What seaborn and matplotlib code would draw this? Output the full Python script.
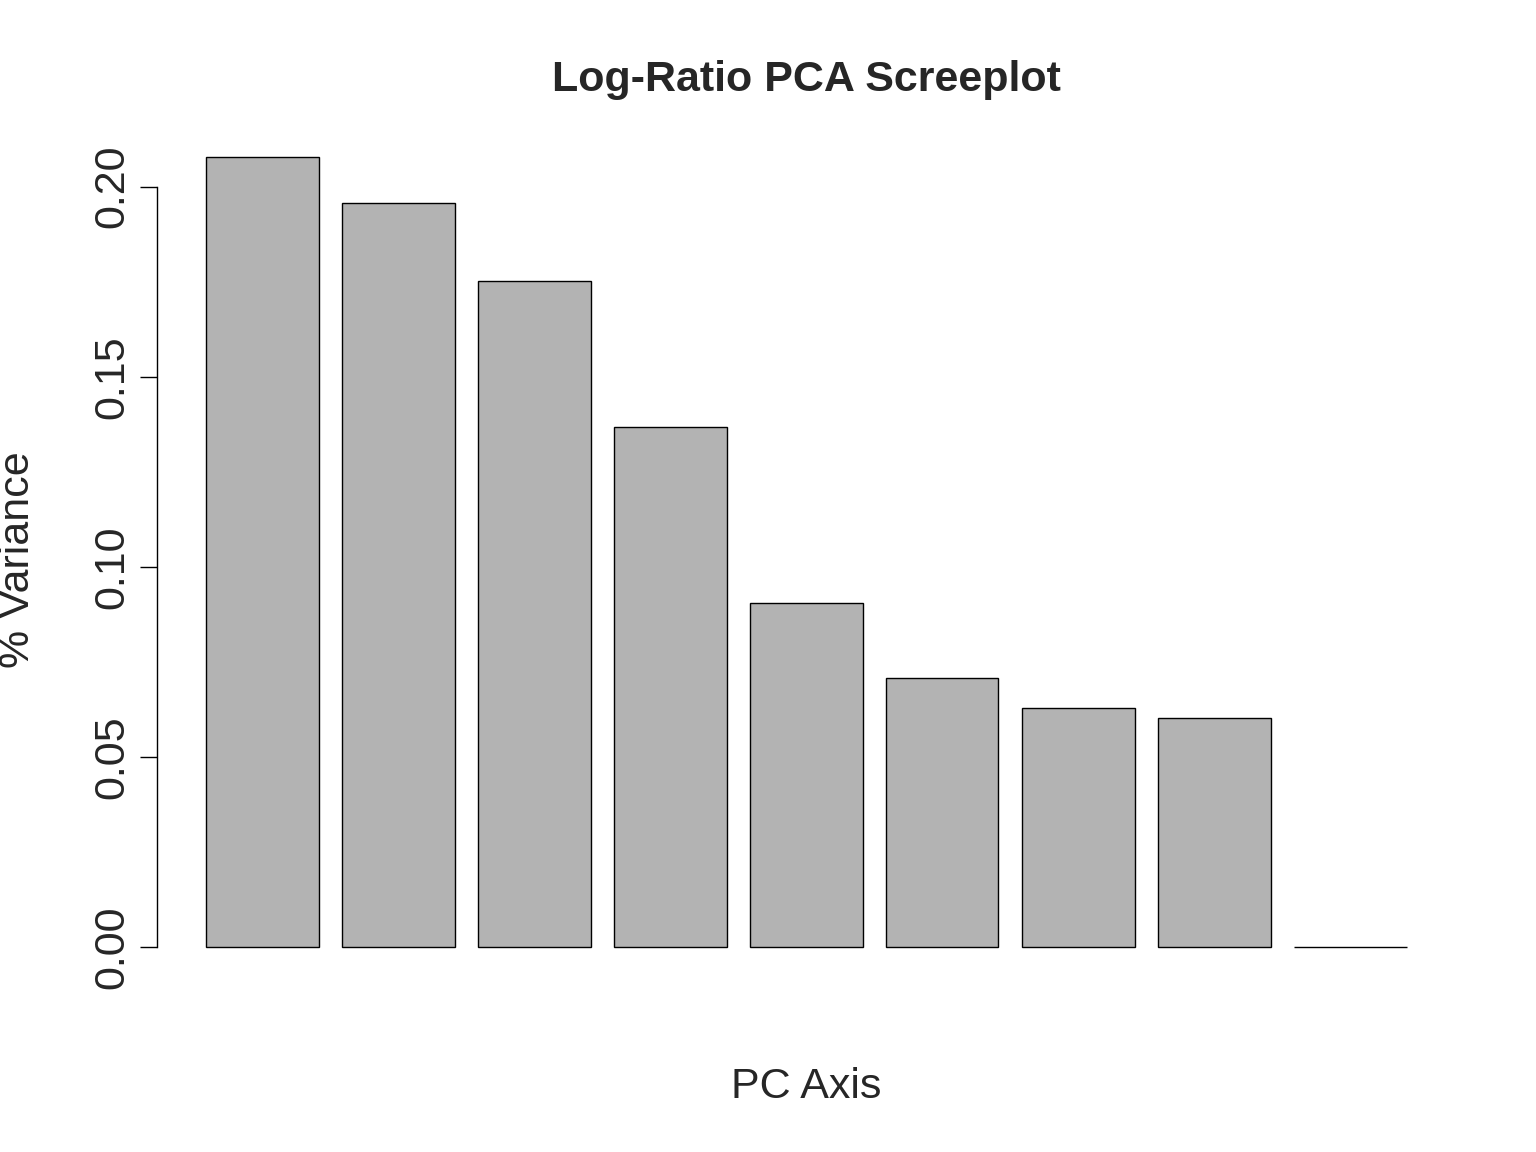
import numpy as np
import pandas as pd
import matplotlib
matplotlib.use("Agg")
import matplotlib.pyplot as plt
import seaborn as sns

# ===================== DATA =====================
pc_axes = ["PC1", "PC2", "PC3", "PC4", "PC5", "PC6", "PC7", "PC8", "PC9"]
variance = [0.2079, 0.1958, 0.1753, 0.1368, 0.0905, 0.0708, 0.0629, 0.0603, 0.0]
y_ticks = [0.00, 0.05, 0.10, 0.15, 0.20]
y_ticklabels = ["0.00", "0.05", "0.10", "0.15", "0.20"]

df = pd.DataFrame({"pc": pc_axes, "var": variance})

sns.set_style("white")
plt.rcParams["font.family"] = ["Liberation Sans", "DejaVu Sans"]

W, H = 1536, 1152
fig = plt.figure(figsize=(W / 100, H / 100), dpi=100)
ax = fig.add_axes([157 / W, (H - 979) / H, 1298 / W, 854 / H])

sns.barplot(data=df, x="pc", y="var", color="#B3B3B3", saturation=1,
            width=113 / 136, edgecolor="black", linewidth=1, ax=ax)

ax.set_xlim(-105 / 136, (1455 - 262) / 136)
ax.set_ylim(-0.0083, 0.2162)
ax.set_xticks([])
for s in ["top", "right", "bottom"]:
    ax.spines[s].set_visible(False)
ax.spines["left"].set_bounds(0, 0.2)
ax.spines["left"].set_linewidth(1)
ax.spines["left"].set_color("black")
ax.set_yticks(y_ticks)
ax.set_yticklabels(y_ticklabels, rotation=90, va="center", fontsize=31)
ax.tick_params(axis="y", left=True, length=12, width=1, color="black", pad=6)

ax.set_xlabel("")
ax.set_ylabel("")
fig.text(806 / W, 1 - 1087 / H, "PC Axis", ha="center", va="center", fontsize=31)
fig.text(18 / W, 1 - 560 / H, "% Variance", ha="center", va="center",
         rotation=90, fontsize=31)
fig.text(806 / W, 1 - 80 / H, "Log-Ratio PCA Screeplot", ha="center", va="center",
         fontsize=31, fontweight="bold")

fig.savefig("out.png", dpi=100, facecolor="white")
